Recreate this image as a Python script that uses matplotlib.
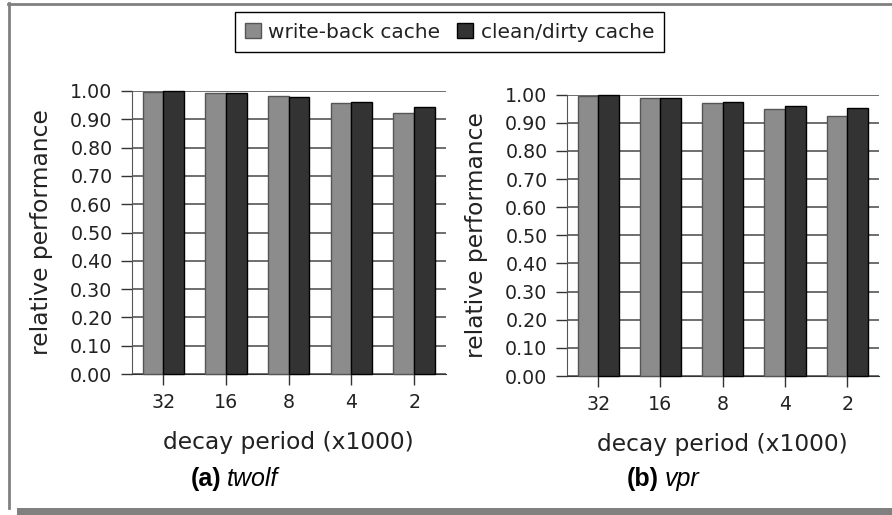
import numpy as np
import matplotlib.pyplot as plt
from matplotlib.patches import Rectangle
from matplotlib.lines import Line2D

# decay periods (x1000) and relative performance for each cache
periods = ['32', '16', '8', '4', '2']
twolf_wb = [0.995, 0.992, 0.982, 0.957, 0.921]
twolf_cd = [1.000, 0.992, 0.980, 0.961, 0.943]
vpr_wb = [0.995, 0.987, 0.972, 0.948, 0.925]
vpr_cd = [0.998, 0.988, 0.975, 0.961, 0.951]
series_names = ['write-back cache', 'clean/dirty cache']

W, H = 892, 515
fig = plt.figure(figsize=(W / 100, H / 100), dpi=100)

gray = '#8c8c8c'
dark = '#333333'


def draw_panel(ax, wb, cd):
    x = np.arange(len(periods))
    w = 0.33
    ax.bar(x - w / 2, wb, w, color=gray, edgecolor='#555555', lw=1, zorder=3,
           clip_on=False, label=series_names[0])
    ax.bar(x + w / 2, cd, w, color=dark, edgecolor='black', lw=1, zorder=3,
           clip_on=False, label=series_names[1])
    ax.set_xlim(-0.5, len(periods) - 0.5)
    ax.set_ylim(0, 1.0)
    ax.set_yticks(np.arange(0, 1.01, 0.1))
    ax.set_yticklabels([f'{v:.2f}' for v in np.arange(0, 1.01, 0.1)])
    ax.set_xticks(x)
    ax.set_xticklabels(periods)
    ax.yaxis.grid(True, color='#555555', lw=1.2, zorder=0)
    ax.set_axisbelow(True)
    for s in ('top', 'right'):
        ax.spines[s].set_visible(False)
    ax.spines['left'].set_color('#555555')
    ax.spines['bottom'].set_color('#333333')
    ax.tick_params(axis='y', length=8, width=1, color='#333333', pad=6,
                   labelsize=13.7, labelcolor='#222222')
    ax.tick_params(axis='x', length=8, width=1, color='#333333', pad=6,
                   labelsize=13.7, labelcolor='#222222')
    ax.set_xlabel('decay period (x1000)', fontsize=16.8, color='#222222', labelpad=13)
    ax.set_ylabel('relative performance', fontsize=16.8, color='#222222', labelpad=12)


ax1 = fig.add_axes([132 / W, 1 - 374 / H, (445.5 - 132) / W, (374 - 91) / H])
ax2 = fig.add_axes([567 / W, 1 - 376 / H, (878.5 - 567) / W, (376 - 94.7) / H])
draw_panel(ax1, twolf_wb, twolf_cd)
draw_panel(ax2, vpr_wb, vpr_cd)

handles, labels = ax1.get_legend_handles_labels()
leg = fig.legend(handles, labels, loc='center', bbox_to_anchor=(449.5 / W, 1 - 32 / H),
                 ncol=2, fontsize=14.5, frameon=True, fancybox=False, framealpha=1,
                 edgecolor='black', handlelength=0.8, handleheight=0.8,
                 handletextpad=0.35, columnspacing=0.85, borderpad=0.5,
                 borderaxespad=0)
leg.get_frame().set_linewidth(1)
for t in leg.get_texts():
    t.set_color('#222222')

# captions under each panel
cap = dict(fontsize=18, family='Liberation Sans', va='center', color='black')
fig.text(221 / W, 1 - 479 / H, '(a)', ha='right', fontweight='bold', **cap)
fig.text(227 / W, 1 - 479 / H, 'twolf', ha='left', style='italic', **cap)
fig.text(659 / W, 1 - 479 / H, '(b)', ha='right', fontweight='bold', **cap)
fig.text(665 / W, 1 - 479 / H, 'vpr', ha='left', style='italic', **cap)

# page frame with drop shadow
frame_c = '#808080'
fig.add_artist(Line2D([8 / W, 1], [1 - 4 / H] * 2, color=frame_c, lw=2, transform=fig.transFigure))
fig.add_artist(Line2D([9 / W] * 2, [1 - 3 / H, 1 - 508 / H], color=frame_c, lw=2, transform=fig.transFigure))
fig.add_artist(Rectangle((17 / W, 0), 1, 7 / H, color=frame_c, lw=0, transform=fig.transFigure))

fig.savefig('out.png', dpi=100)
